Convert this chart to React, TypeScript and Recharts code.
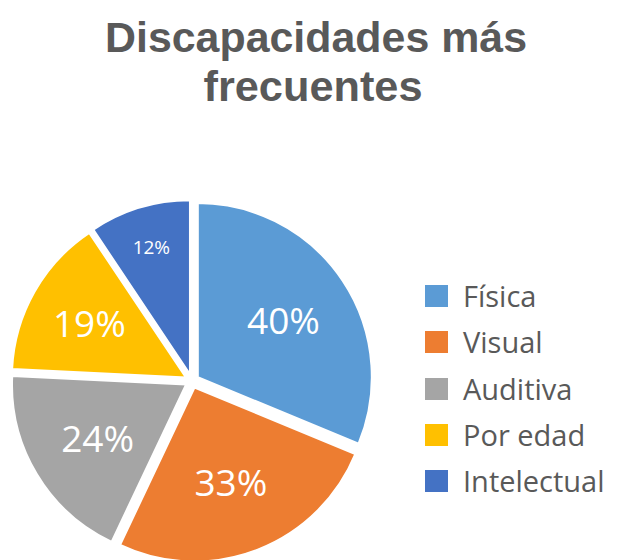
import React from 'react';
import { PieChart, Pie, Cell, Legend, Sector } from 'recharts';

const categories = ['Física', 'Visual', 'Auditiva', 'Por edad', 'Intelectual'];
const values = [40, 33, 24, 19, 12];
const colors = ['#5B9BD5', '#ED7D31', '#A5A5A5', '#FFC000', '#4472C4'];
const titleLines = ['Discapacidades más', 'frecuentes'];

const labelRadii = [110, 108, 110, 118, 140];
const labelSizes = [37, 37, 37, 37, 19];

const data = categories.map((name, i) => ({ name, value: values[i] }));

const RAD = Math.PI / 180;
const EXPLODE = 7;

const renderShape = (props: any) => {
  const { cx, cy, midAngle } = props;
  const dx = EXPLODE * Math.cos(-midAngle * RAD);
  const dy = EXPLODE * Math.sin(-midAngle * RAD);
  return <Sector {...props} cx={cx + dx} cy={cy + dy} />;
};

const renderLabel = (props: any) => {
  const { cx, cy, midAngle, index, value } = props;
  const r = labelRadii[index];
  const x = cx + r * Math.cos(-midAngle * RAD);
  const y = cy + r * Math.sin(-midAngle * RAD);
  return (
    <text
      x={x}
      y={y}
      fill="#FFFFFF"
      textAnchor="middle"
      dominantBaseline="central"
      fontFamily="'Open Sans', sans-serif"
      fontSize={labelSizes[index]}
    >
      {`${value}%`}
    </text>
  );
};

const renderLegend = () => (
  <div style={{ fontFamily: "'Open Sans', sans-serif" }}>
    {categories.map((c, i) => (
      <div key={c} style={{ display: 'flex', alignItems: 'center', height: 46.25 }}>
        <div style={{ width: 23, height: 22, background: colors[i], marginRight: 15 }} />
        <span style={{ fontSize: 29, color: '#595959', lineHeight: '46px' }}>{c}</span>
      </div>
    ))}
  </div>
);

export default function App() {
  return (
    <div style={{ position: 'absolute', left: 0, top: 0, width: 617, height: 560, background: '#fff' }}>
      <svg width={617} height={120} style={{ position: 'absolute', left: 0, top: 0 }}>
        <text
          x={316}
          y={52}
          textAnchor="middle"
          fill="#595959"
          fontFamily="'Liberation Sans', sans-serif"
          fontWeight={700}
          fontSize={43}
          textLength={422}
          lengthAdjust="spacingAndGlyphs"
        >
          {titleLines[0]}
        </text>
        <text
          x={313}
          y={101}
          textAnchor="middle"
          fill="#595959"
          fontFamily="'Liberation Sans', sans-serif"
          fontWeight={700}
          fontSize={43}
          textLength={219}
          lengthAdjust="spacingAndGlyphs"
        >
          {titleLines[1]}
        </text>
      </svg>
      <div style={{ position: 'absolute', left: 0, top: 0 }}>
        <PieChart width={617} height={560} margin={{ top: 0, right: 0, bottom: 0, left: 0 }}>
          <Pie
            data={data}
            dataKey="value"
            nameKey="name"
            cx={192}
            cy={381}
            outerRadius={174}
            startAngle={90}
            endAngle={-270}
            stroke="#FFFFFF"
            strokeWidth={2}
            isAnimationActive={false}
            labelLine={false}
            label={renderLabel}
            shape={renderShape}
          >
            {data.map((d, i) => (
              <Cell key={d.name} fill={colors[i]} />
            ))}
          </Pie>
          <Legend
            content={renderLegend}
            wrapperStyle={{ position: 'absolute', left: 425, top: 273, width: 190 }}
          />
        </PieChart>
      </div>
    </div>
  );
}
